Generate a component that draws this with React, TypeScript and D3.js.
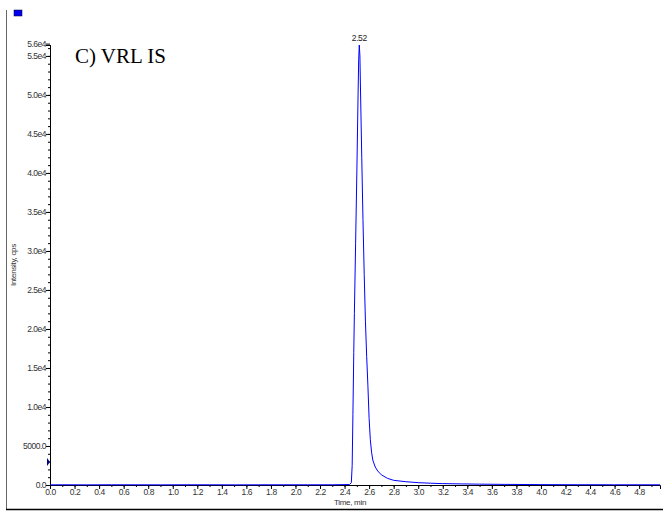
import React, { useEffect, useRef } from "react";
import * as d3 from "d3";

// chromatogram trace, time (min) vs intensity (cps)
const times = [
  0.0, 0.1, 0.3, 0.5, 0.7, 0.9, 1.1, 1.3, 1.5, 1.7, 1.9, 2.1, 2.3, 2.44, 2.455,
  2.462, 2.468, 2.475, 2.48, 2.49, 2.5, 2.51, 2.515, 2.52, 2.525, 2.53, 2.54,
  2.55, 2.56, 2.57, 2.58, 2.59, 2.6, 2.61, 2.62, 2.63, 2.65, 2.67, 2.7, 2.75,
  2.8, 2.9, 3.0, 3.1, 3.2, 3.35, 3.5, 3.7, 4.0, 4.3, 4.6, 4.97,
];
const intensity = [
  20, 30, 20, 30, 25, 20, 30, 25, 20, 25, 30, 25, 30, 60, 300,
  2500, 9000, 17000, 22000, 31000, 40000, 50000, 54500, 56400, 55000, 50500,
  42000, 34000, 27000, 21000, 16500, 12800, 8500, 5800, 4200, 3200, 2300,
  1800, 1300, 850, 600, 420, 300, 230, 180, 140, 110, 80, 50, 35, 30, 25,
];
const xTickLabels = [
  "0.0", "0.2", "0.4", "0.6", "0.8", "1.0", "1.2", "1.4", "1.6", "1.8", "2.0",
  "2.2", "2.4", "2.6", "2.8", "3.0", "3.2", "3.4", "3.6", "3.8", "4.0", "4.2",
  "4.4", "4.6", "4.8",
];
const yTickValues = [0, 5000, 10000, 15000, 20000, 25000, 30000, 35000, 40000, 45000, 50000, 55000];
const yTickLabels = ["0.0", "5000.0", "1.0e4", "1.5e4", "2.0e4", "2.5e4", "3.0e4", "3.5e4", "4.0e4", "4.5e4", "5.0e4", "5.5e4"];
const peakTime = 2.52;
const peakLabel = "2.52";
const title = "C) VRL IS";

export default function App() {
  const ref = useRef<SVGSVGElement>(null);

  useEffect(() => {
    const svg = d3.select(ref.current);
    svg.selectAll("*").remove();
    const width = 663;
    const left = 50;
    const right = 660;
    const top = 45;
    const bottom = 485;
    const font = "Arial, 'Liberation Sans', sans-serif";

    const x = d3.scaleLinear().domain([0, 4.97]).range([left, right]);
    const y = d3.scaleLinear().domain([0, 56400]).range([bottom, top]);

    // outer frame
    svg.append("line").attr("x1", 6.5).attr("x2", 6.5).attr("y1", 10).attr("y2", 509.5)
      .attr("stroke", "#666").attr("stroke-width", 1);
    svg.append("line").attr("x1", 6).attr("x2", width).attr("y1", 509.5).attr("y2", 509.5)
      .attr("stroke", "#000").attr("stroke-width", 1.5);
    svg.append("rect").attr("x", 14).attr("y", 10).attr("width", 8).attr("height", 6)
      .attr("fill", "#0000ee").attr("stroke", "#000033").attr("stroke-width", 0.5);

    // x axis
    const xMinor = d3.range(0, 50).map((i) => i / 10);
    const xAx = svg.append("g").attr("transform", `translate(0,${bottom})`);
    xAx.call(d3.axisBottom(x).tickValues(xMinor).tickSize(2).tickFormat(() => ""));
    xAx.append("g").call(
      d3.axisBottom(x)
        .tickValues(xTickLabels.map(Number))
        .tickSize(4)
        .tickFormat((d, i) => xTickLabels[i])
    );
    xAx.select(".domain").attr("d", `M${left},0.5H${right}`);
    xAx.selectAll("text").attr("font-size", 8.5).attr("font-family", font)
      .attr("fill", "#333").attr("dy", "0.6em").attr("y", 5).attr("letter-spacing", -0.4);
    xAx.selectAll(".tick line").attr("stroke", "#000");

    // y axis
    const yMinor = d3.range(0, 57).map((i) => i * 1000);
    const yAx = svg.append("g").attr("transform", `translate(${left},0)`);
    yAx.call(d3.axisLeft(y).tickValues(yMinor).tickSize(2).tickFormat(() => ""));
    yAx.append("g").call(
      d3.axisLeft(y).tickValues(yTickValues).tickSize(4)
        .tickFormat((d, i) => yTickLabels[i])
    );
    yAx.select(".domain").attr("d", `M0.5,${bottom}V${top}`);
    yAx.selectAll("text").attr("font-size", 8.5).attr("font-family", font)
      .attr("fill", "#333").attr("x", -4).attr("letter-spacing", -0.5);
    yAx.append("text").attr("x", -4).attr("y", y(56000) - 4).attr("dy", "0.32em")
      .attr("text-anchor", "end").attr("font-size", 8.5).attr("font-family", font)
      .attr("fill", "#333").attr("letter-spacing", -0.5).text("5.6e4");
    yAx.append("line").attr("x1", -4).attr("x2", 0).attr("y1", y(56000) - 4).attr("y2", y(56000) - 4)
      .attr("stroke", "#000");

    // axis titles
    svg.append("text").attr("x", (left + right) / 2 - 5).attr("y", 505)
      .attr("text-anchor", "middle").attr("font-size", 8).attr("font-family", font)
      .attr("fill", "#333").attr("letter-spacing", -0.3).text("Time, min");
    svg.append("text").attr("transform", `translate(16,${(top + bottom) / 2}) rotate(-90)`)
      .attr("text-anchor", "middle").attr("font-size", 8).attr("font-family", font)
      .attr("fill", "#333").attr("letter-spacing", -0.3).text("Intensity, cps");

    // baseline marker
    const my = 462;
    svg.append("path").attr("d", `M47,${my - 4}L50,${my}L47,${my + 4}Z`).attr("fill", "#000080");

    // trace
    const pts = times.map((t, i) => [t, intensity[i]] as [number, number]);
    const line = d3.line<[number, number]>().x((d) => x(d[0])).y((d) => y(d[1]));
    svg.append("path").datum(pts).attr("d", line).attr("fill", "none")
      .attr("stroke", "#0000ff").attr("stroke-width", 1);

    // peak label and title
    svg.append("text").attr("x", x(peakTime)).attr("y", y(56400) - 4).attr("text-anchor", "middle")
      .attr("font-size", 8.5).attr("font-family", font).attr("fill", "#222")
      .attr("letter-spacing", -0.4).text(peakLabel);
    svg.append("text").attr("x", 75).attr("y", 63).attr("font-size", 21)
      .attr("font-family", "'Liberation Serif', 'Times New Roman', serif").attr("fill", "#000").text(title);
  }, []);

  return (
    <div style={{ position: "absolute", left: 0, top: 0 }}>
      <svg ref={ref} width={663} height={511} style={{ display: "block" }} />
    </div>
  );
}
